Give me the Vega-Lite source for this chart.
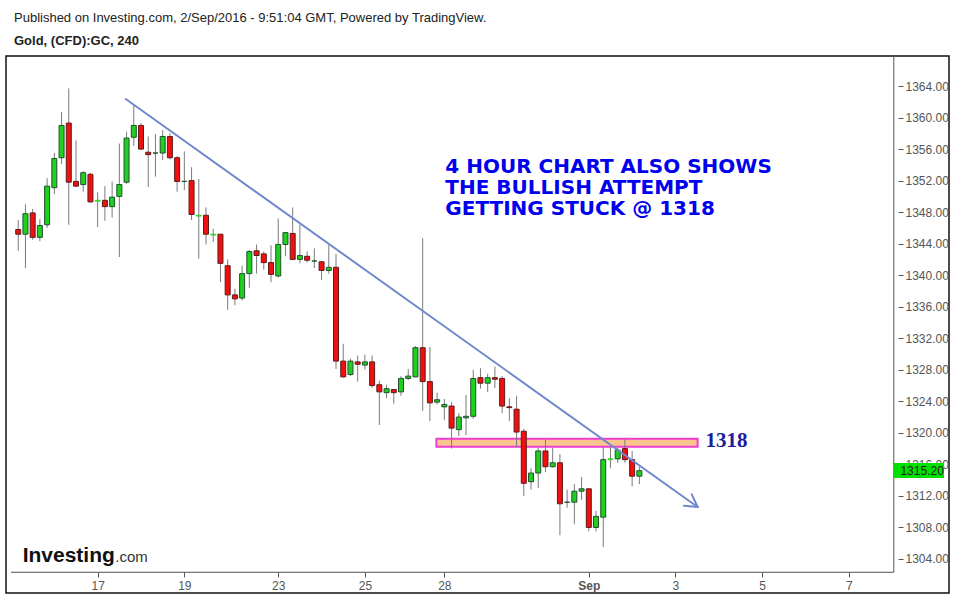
{
  "$schema": "https://vega.github.io/schema/vega-lite/v6.json",
  "width": 943,
  "height": 537,
  "autosize": "none",
  "padding": {"left": 6, "top": 56, "right": 6, "bottom": 3},
  "background": "white",
  "config": {
    "font": "Liberation Sans",
    "view": {"stroke": "#111", "strokeWidth": 1.5}
  },
  "title": {
    "text": "Published on Investing.com, 2/Sep/2016 - 9:51:04 GMT, Powered by TradingView.",
    "subtitle": "Gold, (CFD):GC, 240",
    "anchor": "start",
    "frame": "group",
    "dx": 8,
    "offset": 8,
    "font": "Liberation Sans",
    "fontSize": 13,
    "fontWeight": "normal",
    "color": "#222",
    "subtitleFont": "Liberation Sans",
    "subtitleFontSize": 13,
    "subtitleFontWeight": "bold",
    "subtitleColor": "#222",
    "subtitlePadding": 10
  },
  "datasets": {
    "candles": [
      {"i": 1, "o": 1345.8, "h": 1347.0, "l": 1343.1, "c": 1345.2},
      {"i": 2, "o": 1345.2, "h": 1349.0, "l": 1340.9, "c": 1347.8},
      {"i": 3, "o": 1347.9, "h": 1348.4, "l": 1344.5, "c": 1344.8},
      {"i": 4, "o": 1344.8, "h": 1347.1, "l": 1344.3, "c": 1346.3},
      {"i": 5, "o": 1346.4, "h": 1352.3, "l": 1346.0, "c": 1351.3},
      {"i": 6, "o": 1351.1, "h": 1355.5, "l": 1350.3, "c": 1354.8},
      {"i": 7, "o": 1354.9, "h": 1360.7, "l": 1354.1, "c": 1359.0},
      {"i": 8, "o": 1359.3, "h": 1363.7, "l": 1346.4, "c": 1351.8},
      {"i": 9, "o": 1351.9, "h": 1357.1, "l": 1351.2, "c": 1351.3},
      {"i": 10, "o": 1351.5, "h": 1353.2, "l": 1350.6, "c": 1353.0},
      {"i": 11, "o": 1352.8, "h": 1353.0, "l": 1349.2, "c": 1349.3},
      {"i": 12, "o": 1349.4, "h": 1350.5, "l": 1346.1, "c": 1349.5},
      {"i": 13, "o": 1349.5, "h": 1351.3, "l": 1346.9, "c": 1348.7},
      {"i": 14, "o": 1348.7, "h": 1351.9, "l": 1347.3, "c": 1349.9},
      {"i": 15, "o": 1350.0, "h": 1356.7, "l": 1342.3, "c": 1351.5},
      {"i": 16, "o": 1351.8, "h": 1358.2, "l": 1351.6, "c": 1357.4},
      {"i": 17, "o": 1357.5, "h": 1361.6, "l": 1356.4, "c": 1359.0},
      {"i": 18, "o": 1359.0, "h": 1359.3, "l": 1355.9, "c": 1356.0},
      {"i": 19, "o": 1355.6, "h": 1357.6, "l": 1351.2, "c": 1355.3},
      {"i": 20, "o": 1355.5, "h": 1357.9, "l": 1352.5, "c": 1355.5},
      {"i": 21, "o": 1355.5, "h": 1358.4, "l": 1354.6, "c": 1357.6},
      {"i": 22, "o": 1357.6, "h": 1358.0, "l": 1354.7, "c": 1354.9},
      {"i": 23, "o": 1354.9, "h": 1355.1, "l": 1350.6, "c": 1351.9},
      {"i": 24, "o": 1351.9, "h": 1355.7, "l": 1350.8, "c": 1351.9},
      {"i": 25, "o": 1352.0, "h": 1353.7, "l": 1347.0, "c": 1347.7},
      {"i": 26, "o": 1347.5, "h": 1352.2, "l": 1342.1, "c": 1347.6},
      {"i": 27, "o": 1347.6, "h": 1348.6, "l": 1343.9, "c": 1345.2},
      {"i": 28, "o": 1345.1, "h": 1345.9, "l": 1344.2, "c": 1345.2},
      {"i": 29, "o": 1345.2, "h": 1345.2, "l": 1339.1, "c": 1341.5},
      {"i": 30, "o": 1341.2, "h": 1342.0, "l": 1335.6, "c": 1337.5},
      {"i": 31, "o": 1337.5, "h": 1338.3, "l": 1336.2, "c": 1337.0},
      {"i": 32, "o": 1337.1, "h": 1341.2, "l": 1336.8, "c": 1340.2},
      {"i": 33, "o": 1340.2, "h": 1343.2, "l": 1338.4, "c": 1343.0},
      {"i": 34, "o": 1343.1, "h": 1343.9, "l": 1340.2, "c": 1342.5},
      {"i": 35, "o": 1342.7, "h": 1343.0, "l": 1340.7, "c": 1341.6},
      {"i": 36, "o": 1341.6, "h": 1343.8, "l": 1339.1, "c": 1340.1},
      {"i": 37, "o": 1339.9, "h": 1347.2, "l": 1339.7, "c": 1343.9},
      {"i": 38, "o": 1343.9, "h": 1345.5, "l": 1342.4, "c": 1345.4},
      {"i": 39, "o": 1345.3, "h": 1348.6, "l": 1341.9, "c": 1342.0},
      {"i": 40, "o": 1342.0, "h": 1346.4, "l": 1341.5, "c": 1342.5},
      {"i": 41, "o": 1342.4, "h": 1343.0, "l": 1341.6, "c": 1341.9},
      {"i": 42, "o": 1341.8, "h": 1343.4, "l": 1340.9, "c": 1341.8},
      {"i": 43, "o": 1341.7, "h": 1341.8, "l": 1339.4, "c": 1340.6},
      {"i": 44, "o": 1340.6, "h": 1343.8, "l": 1340.2, "c": 1341.0},
      {"i": 45, "o": 1341.0, "h": 1342.7, "l": 1328.1, "c": 1329.1},
      {"i": 46, "o": 1329.1, "h": 1331.3, "l": 1327.0, "c": 1327.1},
      {"i": 47, "o": 1327.4, "h": 1329.4, "l": 1327.2, "c": 1329.1},
      {"i": 48, "o": 1329.0, "h": 1329.8, "l": 1326.5, "c": 1328.7},
      {"i": 49, "o": 1328.6, "h": 1329.9, "l": 1328.0, "c": 1329.0},
      {"i": 50, "o": 1329.0, "h": 1329.8, "l": 1325.7, "c": 1326.0},
      {"i": 51, "o": 1326.1, "h": 1326.6, "l": 1321.0, "c": 1325.2},
      {"i": 52, "o": 1325.1, "h": 1326.1, "l": 1324.4, "c": 1325.6},
      {"i": 53, "o": 1325.5, "h": 1325.5, "l": 1323.7, "c": 1325.1},
      {"i": 54, "o": 1325.2, "h": 1327.2, "l": 1324.7, "c": 1326.9},
      {"i": 55, "o": 1326.9, "h": 1328.1, "l": 1326.7, "c": 1327.2},
      {"i": 56, "o": 1327.1, "h": 1331.0, "l": 1327.1, "c": 1330.8},
      {"i": 57, "o": 1330.8, "h": 1344.7, "l": 1322.8, "c": 1326.5},
      {"i": 58, "o": 1326.5, "h": 1330.9, "l": 1321.5, "c": 1323.8},
      {"i": 59, "o": 1323.9, "h": 1325.1, "l": 1323.6, "c": 1324.2},
      {"i": 60, "o": 1323.3, "h": 1324.3, "l": 1321.6, "c": 1323.6},
      {"i": 61, "o": 1323.4, "h": 1323.9, "l": 1318.0, "c": 1320.6},
      {"i": 62, "o": 1320.4, "h": 1322.5, "l": 1319.6, "c": 1322.0},
      {"i": 63, "o": 1321.9, "h": 1324.8, "l": 1319.7, "c": 1322.1},
      {"i": 64, "o": 1322.1, "h": 1328.0, "l": 1321.8, "c": 1326.9},
      {"i": 65, "o": 1327.0, "h": 1328.2, "l": 1325.6, "c": 1326.3},
      {"i": 66, "o": 1326.3, "h": 1327.5, "l": 1325.2, "c": 1327.0},
      {"i": 67, "o": 1327.0, "h": 1328.4, "l": 1325.7, "c": 1326.8},
      {"i": 68, "o": 1326.9, "h": 1327.2, "l": 1322.5, "c": 1323.4},
      {"i": 69, "o": 1323.3, "h": 1324.4, "l": 1321.5, "c": 1323.2},
      {"i": 70, "o": 1323.0, "h": 1324.7, "l": 1318.2, "c": 1320.1},
      {"i": 71, "o": 1320.2, "h": 1320.5, "l": 1312.0, "c": 1313.6},
      {"i": 72, "o": 1313.8, "h": 1315.5, "l": 1312.8, "c": 1314.9},
      {"i": 73, "o": 1314.9, "h": 1318.1, "l": 1313.0, "c": 1317.7},
      {"i": 74, "o": 1317.7, "h": 1319.1, "l": 1315.0, "c": 1315.7},
      {"i": 75, "o": 1315.7, "h": 1318.1, "l": 1315.6, "c": 1316.2},
      {"i": 76, "o": 1316.2, "h": 1317.3, "l": 1307.0, "c": 1311.0},
      {"i": 77, "o": 1311.2, "h": 1312.8, "l": 1310.5, "c": 1311.2},
      {"i": 78, "o": 1311.2, "h": 1313.5, "l": 1308.4, "c": 1312.6},
      {"i": 79, "o": 1312.6, "h": 1314.4, "l": 1311.5, "c": 1312.9},
      {"i": 80, "o": 1312.9, "h": 1312.9, "l": 1307.5, "c": 1308.0},
      {"i": 81, "o": 1308.0, "h": 1310.1, "l": 1307.5, "c": 1309.4},
      {"i": 82, "o": 1309.3, "h": 1318.2, "l": 1305.5, "c": 1316.6},
      {"i": 83, "o": 1316.6, "h": 1318.2, "l": 1315.5, "c": 1316.7},
      {"i": 84, "o": 1316.7, "h": 1318.1, "l": 1316.2, "c": 1317.8},
      {"i": 85, "o": 1318.0, "h": 1319.2, "l": 1316.2, "c": 1316.6},
      {"i": 86, "o": 1316.6, "h": 1317.7, "l": 1313.2, "c": 1314.5},
      {"i": 87, "o": 1314.5, "h": 1315.7, "l": 1313.5, "c": 1315.2}
    ]
  },
  "layer": [
    {
      "data": {"values": [{"x": 58.9, "x2": 95.07, "y": 1318.24, "y2": 1319.26}]},
      "mark": {"type": "rect", "fill": "#fbc68e", "stroke": "#f03cd2", "strokeWidth": 2},
      "encoding": {
        "x": {
          "field": "x", "type": "quantitative",
          "scale": {"domain": [0, 129.18], "nice": false, "zero": false},
          "axis": {
            "orient": "bottom", "offset": -21, "title": null, "domain": false, "grid": false,
            "values": [12, 24, 37, 49, 60, 80, 92, 104, 116], "tickCount": 40,
            "labelExpr": "datum.value == 12 ? '17' : datum.value == 24 ? '19' : datum.value == 37 ? '23' : datum.value == 49 ? '25' : datum.value == 60 ? '28' : datum.value == 80 ? 'Sep' : datum.value == 92 ? '3' : datum.value == 104 ? '5' : '7'",
            "labelFontWeight": {"condition": {"test": "datum.value == 80", "value": "bold"}, "value": "normal"},
            "tickSize": 5, "tickColor": "#555", "labelColor": "#555", "labelFontSize": 12, "labelPadding": 3,
            "labelOverlap": false, "labelBound": false
          }
        },
        "x2": {"field": "x2"},
        "y": {
          "field": "y", "type": "quantitative",
          "scale": {"domain": [1299.68, 1367.81], "nice": false, "zero": false},
          "axis": {
            "orient": "right", "offset": -51, "title": null, "domain": false, "grid": false,
            "values": [1304, 1308, 1312, 1316, 1320, 1324, 1328, 1332, 1336, 1340, 1344, 1348, 1352, 1356, 1360, 1364],
            "tickCount": 40,
            "format": ".2f",
            "tickSize": 5, "tickColor": "#555", "labelColor": "#555", "labelFontSize": 12, "labelPadding": 2,
            "labelOverlap": false, "labelBound": false
          }
        },
        "y2": {"field": "y2"}
      }
    },
    {
      "data": {"name": "candles"},
      "mark": {"type": "rule", "color": "#7a7a7a", "strokeWidth": 1},
      "encoding": {
        "x": {"field": "i", "type": "quantitative", "scale": {"domain": [0, 129.18], "nice": false, "zero": false}},
        "y": {"field": "l", "type": "quantitative", "scale": {"domain": [1299.68, 1367.81], "nice": false, "zero": false}},
        "y2": {"field": "h"}
      }
    },
    {
      "data": {"name": "candles"},
      "mark": {"type": "bar", "size": 5, "strokeWidth": 1},
      "encoding": {
        "x": {"field": "i", "type": "quantitative", "scale": {"domain": [0, 129.18], "nice": false, "zero": false}},
        "y": {"field": "o", "type": "quantitative", "scale": {"domain": [1299.68, 1367.81], "nice": false, "zero": false}},
        "y2": {"field": "c"},
        "fill": {"condition": {"test": "datum.c >= datum.o", "value": "#1fd01f"}, "value": "#f01010"},
        "stroke": {
          "condition": [
            {"test": "datum.c > datum.o && datum.c - datum.o < 0.15", "value": "#2ad82a"},
            {"test": "datum.c >= datum.o", "value": "#22502f"}
          ],
          "value": "#5e1a1a"
        }
      }
    },
    {
      "data": {"values": [
        {"x": 15.89, "y": 1362.35, "x2": 95.07, "y2": 1310.59},
        {"x": 93.16, "y": 1310.76, "x2": 95.07, "y2": 1310.59},
        {"x": 94.26, "y": 1312.2, "x2": 95.07, "y2": 1310.59}
      ]},
      "mark": {"type": "rule", "color": "#7189cc", "strokeWidth": 2, "strokeCap": "round"},
      "encoding": {
        "x": {"field": "x", "type": "quantitative", "scale": {"domain": [0, 129.18], "nice": false, "zero": false}},
        "x2": {"field": "x2"},
        "y": {"field": "y", "type": "quantitative", "scale": {"domain": [1299.68, 1367.81], "nice": false, "zero": false}},
        "y2": {"field": "y2"}
      }
    },
    {
      "data": {"values": [{"x": 60.14, "y": 1354.99, "t": "4 HOUR CHART ALSO SHOWS\nTHE BULLISH ATTEMPT\nGETTING STUCK @ 1318"}]},
      "mark": {"type": "text", "align": "left", "baseline": "top", "font": "DejaVu Sans", "fontWeight": "bold", "fontSize": 20, "lineHeight": 21, "lineBreak": "\n", "color": "#0000ee"},
      "encoding": {
        "x": {"field": "x", "type": "quantitative", "scale": {"domain": [0, 129.18], "nice": false, "zero": false}},
        "y": {"field": "y", "type": "quantitative", "scale": {"domain": [1299.68, 1367.81], "nice": false, "zero": false}},
        "text": {"field": "t"}
      }
    },
    {
      "data": {"values": [{"x": 96.16, "y": 1319.0, "t": "1318"}]},
      "mark": {"type": "text", "align": "left", "baseline": "middle", "font": "Liberation Serif", "fontWeight": "bold", "fontSize": 21, "color": "#1c1c9c"},
      "encoding": {
        "x": {"field": "x", "type": "quantitative", "scale": {"domain": [0, 129.18], "nice": false, "zero": false}},
        "y": {"field": "y", "type": "quantitative", "scale": {"domain": [1299.68, 1367.81], "nice": false, "zero": false}},
        "text": {"field": "t"}
      }
    },
    {
      "data": {"values": [{"x": 14.38, "y": 1303.65, "t": "Investing"}]},
      "mark": {"type": "text", "align": "right", "baseline": "alphabetic", "font": "Liberation Sans", "fontWeight": "bold", "fontSize": 21, "color": "#111"},
      "encoding": {
        "x": {"field": "x", "type": "quantitative", "scale": {"domain": [0, 129.18], "nice": false, "zero": false}},
        "y": {"field": "y", "type": "quantitative", "scale": {"domain": [1299.68, 1367.81], "nice": false, "zero": false}},
        "text": {"field": "t"}
      }
    },
    {
      "data": {"values": [{"x": 14.45, "y": 1303.65, "t": ".com"}]},
      "mark": {"type": "text", "align": "left", "baseline": "alphabetic", "font": "Liberation Sans", "fontSize": 15, "color": "#333"},
      "encoding": {
        "x": {"field": "x", "type": "quantitative", "scale": {"domain": [0, 129.18], "nice": false, "zero": false}},
        "y": {"field": "y", "type": "quantitative", "scale": {"domain": [1299.68, 1367.81], "nice": false, "zero": false}},
        "text": {"field": "t"}
      }
    },
    {
      "data": {"values": [{"x": 122.23, "y": 1302.31, "y2": 1367.81}]},
      "mark": {"type": "rule", "color": "#555", "strokeWidth": 1},
      "encoding": {
        "x": {"field": "x", "type": "quantitative", "scale": {"domain": [0, 129.18], "nice": false, "zero": false}},
        "y": {"field": "y", "type": "quantitative", "scale": {"domain": [1299.68, 1367.81], "nice": false, "zero": false}},
        "y2": {"field": "y2"}
      }
    },
    {
      "data": {"values": [{"x": 0, "x2": 122.23, "y": 1302.31}]},
      "mark": {"type": "rule", "color": "#555", "strokeWidth": 1},
      "encoding": {
        "x": {"field": "x", "type": "quantitative", "scale": {"domain": [0, 129.18], "nice": false, "zero": false}},
        "x2": {"field": "x2"},
        "y": {"field": "y", "type": "quantitative", "scale": {"domain": [1299.68, 1367.81], "nice": false, "zero": false}}
      }
    },
    {
      "data": {"values": [{"x": 122.23, "x2": 129.18, "y": 1314.27, "y2": 1316.18}]},
      "mark": {"type": "rect", "fill": "#00e000"},
      "encoding": {
        "x": {"field": "x", "type": "quantitative", "scale": {"domain": [0, 129.18], "nice": false, "zero": false}},
        "x2": {"field": "x2"},
        "y": {"field": "y", "type": "quantitative", "scale": {"domain": [1299.68, 1367.81], "nice": false, "zero": false}},
        "y2": {"field": "y2"}
      }
    },
    {
      "data": {"values": [{"x": 123.15, "y": 1315.2, "t": "1315.20"}]},
      "mark": {"type": "text", "align": "left", "baseline": "middle", "font": "Liberation Sans", "fontSize": 12, "color": "#222"},
      "encoding": {
        "x": {"field": "x", "type": "quantitative", "scale": {"domain": [0, 129.18], "nice": false, "zero": false}},
        "y": {"field": "y", "type": "quantitative", "scale": {"domain": [1299.68, 1367.81], "nice": false, "zero": false}},
        "text": {"field": "t"}
      }
    }
  ]
}
